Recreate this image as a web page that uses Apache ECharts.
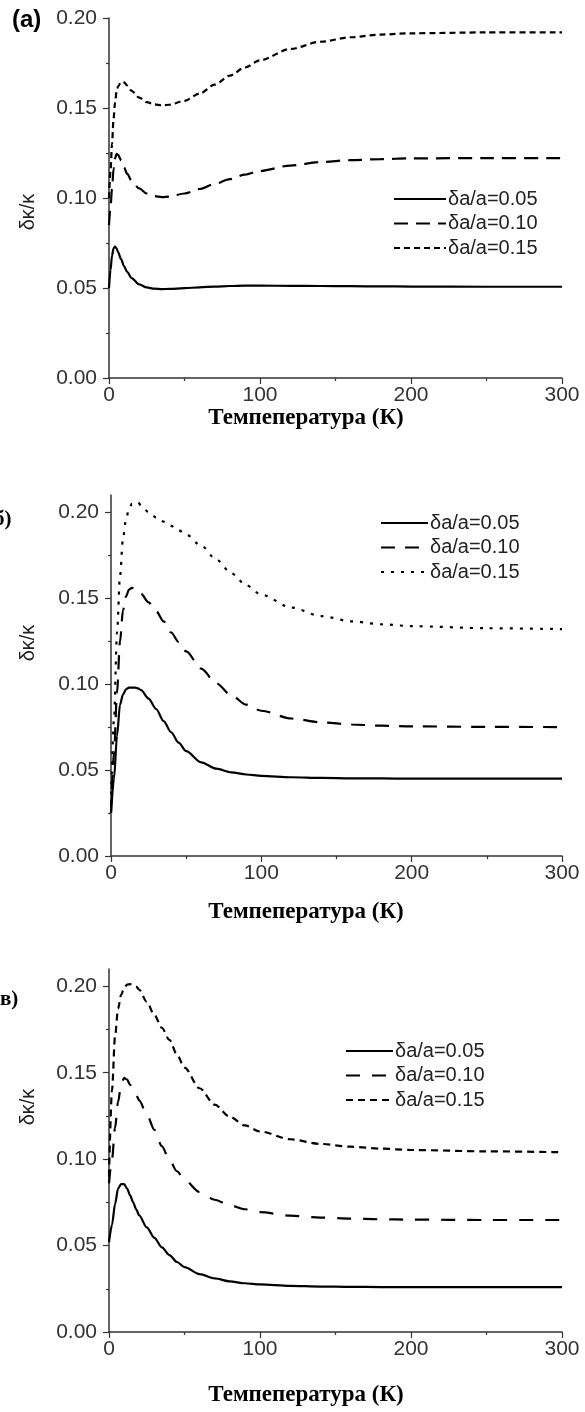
<!DOCTYPE html>
<html>
<head>
<meta charset="utf-8">
<script src="https://cdn.jsdelivr.net/npm/echarts@6/dist/echarts.min.js"></script>
<style>
  html, body { margin: 0; padding: 0; background: #fff; }
  #chart { width: 585px; height: 1412px; }
</style>
</head>
<body>
<div id="chart"></div>
<script>
// Temperature grids (K)
const tempsA = [0, 1, 2, 3, 4, 5, 6, 8, 10, 12, 15, 20, 25, 30, 35, 40, 50, 60, 70, 80, 90, 100, 120, 140, 160, 180, 200, 250, 300];
const tempsB = [0, 2, 4, 6, 8, 10, 12, 14, 16, 18, 20, 25, 30, 35, 40, 45, 50, 60, 70, 80, 90, 100, 120, 140, 160, 180, 200, 250, 300];
const tempsC = [0, 2, 4, 6, 8, 10, 12, 14, 16, 18, 20, 25, 30, 35, 40, 45, 50, 60, 70, 80, 90, 100, 120, 140, 160, 180, 200, 250, 300];

// Panel (a): δκ/κ for δa/a = 0.05, 0.10, 0.15
const a005 = [0.050, 0.060, 0.068, 0.072, 0.073, 0.072, 0.070, 0.066, 0.062, 0.059, 0.0555, 0.052, 0.0503, 0.0496, 0.0494, 0.0495, 0.0499, 0.0504, 0.0508, 0.0511, 0.0513, 0.0513, 0.0512, 0.0511, 0.0510, 0.0509, 0.0508, 0.0507, 0.0507];
const a010 = [0.085, 0.095, 0.105, 0.116, 0.122, 0.1245, 0.124, 0.121, 0.117, 0.1135, 0.1095, 0.1053, 0.1025, 0.1010, 0.1005, 0.1008, 0.1025, 0.1050, 0.1078, 0.1105, 0.1130, 0.1150, 0.1180, 0.1200, 0.1210, 0.1216, 0.1220, 0.1222, 0.1222];
const a015 = [0.100, 0.115, 0.130, 0.144, 0.153, 0.159, 0.162, 0.1645, 0.1642, 0.1625, 0.1595, 0.1558, 0.1533, 0.1520, 0.1515, 0.1518, 0.1540, 0.1580, 0.1630, 0.1680, 0.1725, 0.1765, 0.1828, 0.1868, 0.1893, 0.1908, 0.1915, 0.1920, 0.1920];

// Panel (б)
const b005 = [0.025, 0.045, 0.070, 0.088, 0.094, 0.097, 0.098, 0.098, 0.098, 0.0975, 0.0965, 0.0915, 0.0855, 0.0785, 0.0720, 0.0660, 0.0610, 0.0545, 0.0508, 0.0487, 0.0474, 0.0466, 0.0458, 0.0454, 0.0452, 0.0451, 0.0450, 0.0450, 0.0450];
const b010 = [0.025, 0.060, 0.095, 0.125, 0.143, 0.151, 0.155, 0.156, 0.1555, 0.154, 0.1525, 0.1475, 0.1425, 0.1365, 0.1300, 0.1245, 0.1190, 0.1090, 0.1005, 0.0935, 0.0880, 0.0845, 0.0800, 0.0777, 0.0765, 0.0758, 0.0754, 0.0751, 0.0750];
const b015 = [0.030, 0.080, 0.130, 0.163, 0.185, 0.196, 0.202, 0.205, 0.206, 0.2055, 0.204, 0.200, 0.197, 0.1945, 0.1920, 0.1895, 0.1870, 0.1805, 0.1725, 0.1645, 0.1575, 0.1520, 0.1445, 0.1395, 0.1365, 0.1348, 0.1337, 0.1325, 0.1320];

// Panel (в)
const c005 = [0.052, 0.062, 0.074, 0.083, 0.0855, 0.0855, 0.083, 0.079, 0.075, 0.071, 0.0675, 0.0605, 0.0545, 0.0490, 0.0445, 0.0405, 0.0375, 0.0335, 0.0310, 0.0293, 0.0282, 0.0275, 0.0267, 0.0263, 0.0261, 0.0260, 0.0260, 0.0260, 0.0260];
const c010 = [0.086, 0.100, 0.118, 0.133, 0.143, 0.147, 0.146, 0.143, 0.140, 0.137, 0.134, 0.126, 0.117, 0.1075, 0.0995, 0.0930, 0.0880, 0.0810, 0.0765, 0.0733, 0.0710, 0.0693, 0.0673, 0.0662, 0.0656, 0.0652, 0.0650, 0.0648, 0.0648];
const c015 = [0.090, 0.140, 0.171, 0.187, 0.195, 0.199, 0.201, 0.2012, 0.2008, 0.1998, 0.198, 0.191, 0.1835, 0.1760, 0.1690, 0.1605, 0.1530, 0.1410, 0.1315, 0.1245, 0.1195, 0.1160, 0.1115, 0.1088, 0.1072, 0.1061, 0.1053, 0.1045, 0.1040];

// Axis ticks and labels
const xTicks = [0, 100, 200, 300];
const yTicks = [0, 0.05, 0.10, 0.15, 0.20];
const seriesNames = ['δa/a=0.05', 'δa/a=0.10', 'δa/a=0.15'];
const xTitle = 'Темпепература (К)';
const yTitle = 'δκ/κ';
const panelLetters = ['(a)', 'б)', 'в)'];

const pair = (ts, vs) => ts.map((t, i) => [t, vs[i]]);

const SANS = '"Liberation Sans", Arial, sans-serif';
const SERIF = '"Liberation Serif", "Times New Roman", serif';
const AXIS_COLOR = '#333';
const LABEL_COLOR = '#333';

const grids = [
  { left: 109, right: 23, top: 18, height: 360 },
  { left: 111, right: 23, top: 495, height: 361 },
  { left: 109, right: 23, top: 969, height: 363 }
];
const yMax = [0.20, 0.21, 0.21];

const xAxes = grids.map((g, i) => ({
  type: 'value', gridIndex: i, min: 0, max: 300, interval: 100,
  axisLine: { show: true, lineStyle: { color: AXIS_COLOR, width: 1.5 } },
  axisTick: { show: true, length: 6, lineStyle: { color: AXIS_COLOR, width: 1.2 }, customValues: xTicks },
  minorTick: { show: true, splitNumber: 2, length: 3, lineStyle: { color: AXIS_COLOR, width: 1.2 } },
  splitLine: { show: false },
  axisLabel: { fontSize: 21, color: LABEL_COLOR, fontFamily: SANS, margin: 7, customValues: xTicks }
}));

const yAxes = grids.map((g, i) => ({
  type: 'value', gridIndex: i, min: 0, max: yMax[i], interval: 0.05,
  axisLine: { show: true, lineStyle: { color: AXIS_COLOR, width: 1.5 } },
  axisTick: { show: true, length: 6, lineStyle: { color: AXIS_COLOR, width: 1.2 }, customValues: yTicks },
  minorTick: { show: true, splitNumber: 2, length: 3, lineStyle: { color: AXIS_COLOR, width: 1.2 } },
  splitLine: { show: false },
  axisLabel: { fontSize: 21, color: LABEL_COLOR, fontFamily: SANS, margin: 12,
               customValues: yTicks, formatter: v => v.toFixed(2) }
}));

// Line dash patterns per panel: [solid, dashed, fine]
const dashes = [
  ['solid', [14, 8], [6, 4]],
  ['solid', [14, 10], [3, 7]],
  ['solid', [14, 12], [7, 5]]
];
const panelData = [
  [pair(tempsA, a005), pair(tempsA, a010), pair(tempsA, a015)],
  [pair(tempsB, b005), pair(tempsB, b010), pair(tempsB, b015)],
  [pair(tempsC, c005), pair(tempsC, c010), pair(tempsC, c015)]
];

// Each panel gets its own legend; names differ only by trailing spaces,
// which the legend formatter trims away.
const suffix = ['', ' ', '  '];
const series = [];
panelData.forEach((sets, p) => {
  sets.forEach((d, k) => {
    series.push({
      type: 'line', name: seriesNames[k] + suffix[p],
      xAxisIndex: p, yAxisIndex: p, data: d,
      showSymbol: false, symbol: 'none',
      smooth: 0.3, smoothMonotone: 'x',
      lineStyle: { color: '#000', width: 2.2, type: dashes[p][k] },
      itemStyle: { color: '#000' },
      animation: false
    });
  });
});

const legendPos = [
  { left: 393, top: 189, itemWidth: 52 },
  { left: 380, top: 513, itemWidth: 47 },
  { left: 345, top: 1041, itemWidth: 47 }
];
const legends = legendPos.map((lp, p) => ({
  orient: 'vertical', left: lp.left, top: lp.top,
  itemWidth: lp.itemWidth, itemHeight: 14, itemGap: 4.5,
  padding: 0,
  data: seriesNames.map(n => n + suffix[p]),
  formatter: n => n.trim(),
  itemStyle: { opacity: 0 },
  textStyle: { fontSize: 20, color: '#222', fontFamily: SANS, padding: [0, 0, 0, -3] },
  selectedMode: false
}));

const texts = [];
// panel letters
texts.push({ type: 'text', x: 12, y: 20, style: { text: panelLetters[0], font: 'bold 24px ' + SANS, fill: '#000', textVerticalAlign: 'middle' } });
texts.push({ type: 'text', x: -6, y: 520, style: { text: panelLetters[1], font: 'bold 21px ' + SERIF, fill: '#000', textVerticalAlign: 'middle' } });
texts.push({ type: 'text', x: 0, y: 1000, style: { text: panelLetters[2], font: 'bold 21px ' + SERIF, fill: '#000', textVerticalAlign: 'middle' } });
// y-axis names
[212, 643, 1107].forEach(y => {
  texts.push({ type: 'text', x: 28, y: y, rotation: Math.PI / 2,
    style: { text: yTitle, font: '20px ' + SANS, fill: '#222', textAlign: 'center', textVerticalAlign: 'middle' } });
});
// x-axis titles
[418, 912, 1395].forEach(y => {
  texts.push({ type: 'text', x: 306, y: y,
    style: { text: xTitle, font: 'bold 23px ' + SERIF, fill: '#000', textAlign: 'center', textVerticalAlign: 'middle' } });
});

const chart = echarts.init(document.getElementById('chart'), null, { renderer: 'canvas' });
chart.setOption({
  backgroundColor: '#fff',
  animation: false,
  grid: grids,
  xAxis: xAxes,
  yAxis: yAxes,
  legend: legends,
  series: series,
  graphic: { elements: texts }
});
</script>
</body>
</html>
